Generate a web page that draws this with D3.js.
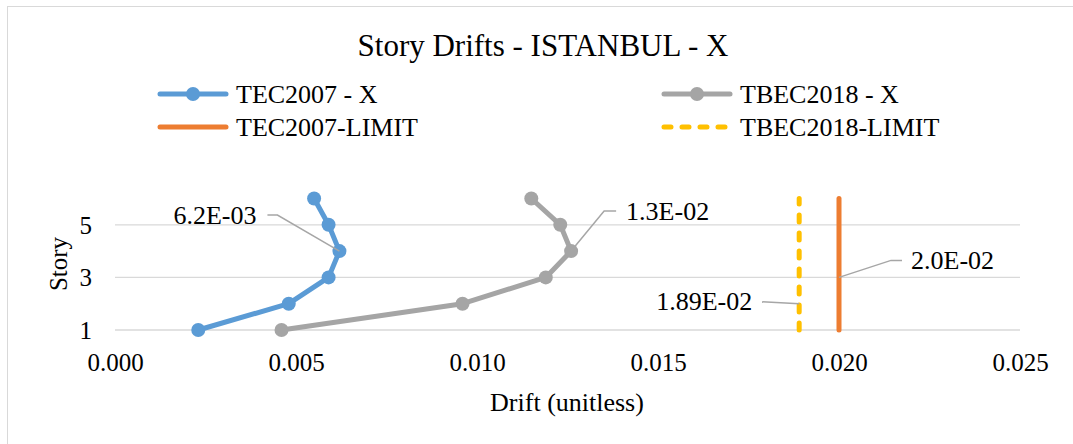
<!DOCTYPE html>
<html>
<head>
<meta charset="utf-8">
<script src="https://cdn.jsdelivr.net/npm/d3@7"></script>
<style>
  html, body { margin: 0; padding: 0; background: #fff; }
  svg { display: block; }
  text { font-family: "Liberation Serif", "Times New Roman", serif; fill: #000; }
</style>
</head>
<body>
<svg id="chart" width="1073" height="444"></svg>
<script>
// Story numbers and inter-story drift ratios
const stories = [1, 2, 3, 4, 5, 6];
const tec2007X = [0.0023, 0.0048, 0.0059, 0.0062, 0.0059, 0.0055];
const tbec2018X = [0.0046, 0.0096, 0.0119, 0.0126, 0.0123, 0.0115];
const tec2007Limit = [0.020, 0.020, 0.020, 0.020, 0.020, 0.020];
const tbec2018Limit = [0.0189, 0.0189, 0.0189, 0.0189, 0.0189, 0.0189];

const xTicks = [0, 0.005, 0.010, 0.015, 0.020, 0.025];
const yTicks = [1, 3, 5];

const titleText = "Story Drifts - ISTANBUL - X";
const xTitle = "Drift (unitless)";
const yTitle = "Story";

// value callouts: series, story index, label text
const callouts = [
  { name: "TEC2007 - X", values: tec2007X, idx: 3, text: "6.2E-03" },
  { name: "TBEC2018 - X", values: tbec2018X, idx: 3, text: "1.3E-02" },
  { name: "TEC2007-LIMIT", values: tec2007Limit, idx: 2, text: "2.0E-02" },
  { name: "TBEC2018-LIMIT", values: tbec2018Limit, idx: 1, text: "1.89E-02" }
];

const svg = d3.select("#chart");
const W = 1073, H = 444;

// chart frame
svg.append("rect")
  .attr("x", 7.5).attr("y", 6.5)
  .attr("width", W + 10).attr("height", H + 10)
  .attr("fill", "#fff").attr("stroke", "#d9d9d9").attr("stroke-width", 1);

const x = d3.scaleLinear().domain([0, 0.025]).range([115, 1020]);
const y = d3.scaleLinear().domain([1, 6]).range([330, 198.5]);

// gridlines
svg.append("g")
  .selectAll("line")
  .data(yTicks)
  .join("line")
  .attr("x1", x(0)).attr("x2", x(0.025))
  .attr("y1", d => y(d)).attr("y2", d => y(d))
  .attr("stroke", "#d9d9d9").attr("stroke-width", 1.3);

// axes (text only, no domain lines)
const xAxis = d3.axisBottom(x).tickValues(xTicks).tickFormat(d3.format(".3f")).tickSize(0).tickPadding(0);
const gx = svg.append("g").attr("transform", "translate(0,353)").call(xAxis);
gx.select(".domain").remove();
gx.selectAll("text").attr("font-size", 25).attr("font-family", "Liberation Serif").attr("fill", "#000").attr("dy", "0.71em");

const yAxis = d3.axisLeft(y).tickValues(yTicks).tickFormat(d3.format("d")).tickSize(0).tickPadding(0);
const gy = svg.append("g").attr("transform", "translate(92,0)").call(yAxis);
gy.select(".domain").remove();
gy.selectAll("text").attr("font-size", 25).attr("font-family", "Liberation Serif").attr("fill", "#000").attr("dy", "0.33em");

// series
const series = [
  { name: "TEC2007 - X", values: tec2007X, color: "#5b9bd5", marker: true, dash: null },
  { name: "TBEC2018 - X", values: tbec2018X, color: "#a5a5a5", marker: true, dash: null },
  { name: "TEC2007-LIMIT", values: tec2007Limit, color: "#ed7d31", marker: false, dash: null },
  { name: "TBEC2018-LIMIT", values: tbec2018Limit, color: "#ffc000", marker: false, dash: "7,11" }
];

const line = d3.line().x(d => x(d.v)).y(d => y(d.s));

// draw limit lines first, then measured drifts on top
const order = [2, 3, 0, 1];
order.forEach(i => {
  const s = series[i];
  const pts = stories.map((st, j) => ({ s: st, v: s.values[j] }));
  svg.append("path")
    .datum(pts)
    .attr("d", line)
    .attr("fill", "none")
    .attr("stroke", s.color)
    .attr("stroke-width", 5)
    .attr("stroke-linejoin", "round")
    .attr("stroke-linecap", "round")
    .attr("stroke-dasharray", s.dash);
  if (s.marker) {
    svg.append("g").selectAll("circle")
      .data(pts).join("circle")
      .attr("cx", d => x(d.v)).attr("cy", d => y(d.s))
      .attr("r", 7).attr("fill", s.color);
  }
});

// callout leader lines and labels
const calloutLayout = {
  "TEC2007 - X": { dx: -62, dy: -36, hx: -10, anchor: "end", tx: -83 },
  "TBEC2018 - X": { dx: 33, dy: -40, hx: 12, anchor: "start", tx: 55 },
  "TEC2007-LIMIT": { dx: 52, dy: -17, hx: 11, anchor: "start", tx: 72 },
  "TBEC2018-LIMIT": { dx: -37, dy: -2, hx: 0, anchor: "end", tx: -47 }
};
callouts.forEach(c => {
  const L = calloutLayout[c.name];
  const px = x(c.values[c.idx]), py = y(stories[c.idx]);
  const ex = px + L.dx, ey = py + L.dy;
  svg.append("polyline")
    .attr("points", `${px},${py} ${ex},${ey} ${ex + L.hx},${ey}`)
    .attr("fill", "none").attr("stroke", "#a6a6a6").attr("stroke-width", 1.5);
  svg.append("text")
    .attr("x", px + L.tx).attr("y", ey)
    .attr("dy", "0.33em")
    .attr("text-anchor", L.anchor)
    .attr("font-size", 26)
    .text(c.text);
});

// title and axis titles
svg.append("text").attr("x", 543).attr("y", 56).attr("text-anchor", "middle")
  .attr("font-size", 31).text(titleText);
svg.append("text").attr("x", 567).attr("y", 411).attr("text-anchor", "middle")
  .attr("font-size", 26).text(xTitle);
svg.append("text").attr("transform", "translate(67,264) rotate(-90)").attr("text-anchor", "middle")
  .attr("font-size", 25).text(yTitle);

// legend
const legendPos = [
  { x: 158, y: 94 }, { x: 662, y: 94 },
  { x: 158, y: 127 }, { x: 662, y: 127 }
];
series.forEach((s, i) => {
  const p = legendPos[i];
  const g = svg.append("g").attr("transform", `translate(${p.x},${p.y})`);
  g.append("line").attr("x1", 2).attr("x2", 68).attr("y1", 0).attr("y2", 0)
    .attr("stroke", s.color).attr("stroke-width", 5)
    .attr("stroke-linecap", "round")
    .attr("stroke-dasharray", s.dash ? "7,11" : null);
  if (s.marker) g.append("circle").attr("cx", 35).attr("cy", 0).attr("r", 7).attr("fill", s.color);
  g.append("text").attr("x", 78).attr("y", 0).attr("dy", "0.33em")
    .attr("font-size", 26).text(s.name);
});
</script>
</body>
</html>
